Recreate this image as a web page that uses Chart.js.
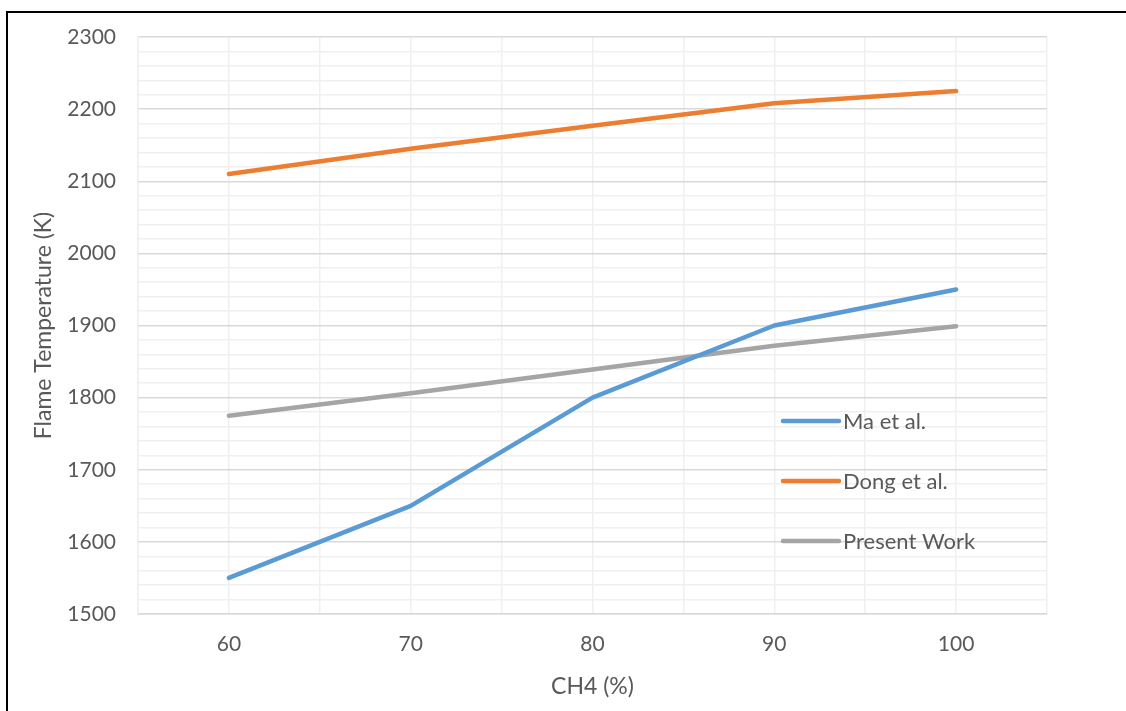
<!DOCTYPE html>
<html>
<head>
<meta charset="utf-8">
<script src="https://cdn.jsdelivr.net/npm/chart.js@4.4.1/dist/chart.umd.min.js"></script>
<style>
  html, body { margin: 0; padding: 0; background: #fff; overflow: hidden; }
  #wrap { position: relative; width: 1126px; height: 711px; overflow: hidden; }
  #c { position: absolute; left: 0; top: 0; }
  #frame { position: absolute; left: 6px; top: 11px; width: 1300px; height: 900px;
           border-top: 2px solid #000; border-left: 2px solid #000; pointer-events: none; }
</style>
</head>
<body>
<div id="wrap">
  <canvas id="c" width="1126" height="711"></canvas>
  <div id="frame"></div>
</div>
<script>
// CH4 share in the fuel (%) and flame temperatures (K)
const ch4Percent   = [60, 70, 80, 90, 100];
const maEtAl       = [1550, 1650, 1800, 1900, 1950];
const dongEtAl     = [2110, 2145, 2177, 2208, 2225];
const presentWork  = [1775, 1806, 1839, 1872, 1899];

const seriesNames  = ['Ma et al.', 'Dong et al.', 'Present Work'];
const seriesColors = ['#5B9BD5', '#ED7D31', '#A5A5A5'];
const xTickLabels  = [60, 70, 80, 90, 100];
const yTickLabels  = [1500, 1600, 1700, 1800, 1900, 2000, 2100, 2200, 2300];

const FONT = 'Lato, "Open Sans", sans-serif';
const TEXT = '#595959';

const toPoints = ys => ch4Percent.map((x, i) => ({ x: x, y: ys[i] }));

function lineSet(name, color, ys) {
  return {
    label: name,
    data: toPoints(ys),
    borderColor: color,
    backgroundColor: color,
    borderWidth: 4.5,
    borderCapStyle: 'round',
    borderJoinStyle: 'round',
    pointRadius: 0,
    pointHoverRadius: 0,
    tension: 0,
    fill: false
  };
}

// Legend drawn inside the plot area as a vertical list of line swatches
const insideLegend = {
  id: 'insideLegend',
  afterDraw(chart) {
    const ctx = chart.ctx;
    const x0 = 783, x1 = 839, textX = 843, y0 = 421, gap = 60;
    ctx.save();
    ctx.font = '22px ' + FONT;
    ctx.textBaseline = 'middle';
    ctx.textAlign = 'left';
    chart.data.datasets.forEach((ds, i) => {
      const y = y0 + i * gap;
      ctx.strokeStyle = ds.borderColor;
      ctx.lineWidth = 4.5;
      ctx.lineCap = 'round';
      ctx.beginPath();
      ctx.moveTo(x0, y);
      ctx.lineTo(x1, y);
      ctx.stroke();
      ctx.fillStyle = TEXT;
      ctx.fillText(ds.label, textX, y + 1);
    });
    ctx.restore();
  }
};

const whiteBg = {
  id: 'whiteBg',
  beforeDraw(chart) {
    const ctx = chart.ctx;
    ctx.save();
    ctx.fillStyle = '#fff';
    ctx.fillRect(0, 0, chart.width, chart.height);
    ctx.restore();
  }
};

new Chart(document.getElementById('c'), {
  type: 'line',
  data: {
    datasets: [
      lineSet(seriesNames[0], seriesColors[0], maEtAl),
      lineSet(seriesNames[1], seriesColors[1], dongEtAl),
      lineSet(seriesNames[2], seriesColors[2], presentWork)
    ]
  },
  options: {
    responsive: false,
    devicePixelRatio: 1,
    animation: false,
    layout: { padding: { top: 37, right: 79, left: 0, bottom: 0 } },
    plugins: {
      legend: { display: false },
      tooltip: { enabled: false }
    },
    scales: {
      x: {
        type: 'linear',
        min: 55,
        max: 105,
        afterFit: s => { s.height = 97; },
        ticks: {
          stepSize: 5,
          autoSkip: false,
          maxRotation: 0,
          padding: 18,
          color: TEXT,
          font: { family: FONT, size: 21 },
          callback: v => xTickLabels.includes(v) ? String(v) : ''
        },
        grid: { color: '#f0f0f0', lineWidth: 1.5, drawTicks: false },
        border: { display: true, color: '#d9d9d9', width: 1.5 },
        title: {
          display: true,
          text: 'CH4 (%)',
          color: TEXT,
          font: { family: FONT, size: 23 },
          padding: { top: 0, bottom: 11 }
        }
      },
      y: {
        type: 'linear',
        min: 1500,
        max: 2300,
        afterFit: s => { s.width = 138; },
        ticks: {
          stepSize: 20,
          autoSkip: false,
          padding: 22,
          color: TEXT,
          font: { family: FONT, size: 21 },
          callback: v => yTickLabels.includes(v) ? String(v) : ''
        },
        grid: {
          color: c => (c.tick && c.tick.value % 100 === 0) ? '#d9d9d9' : '#f0f0f0',
          lineWidth: 1.5,
          drawTicks: false
        },
        border: { display: true, color: '#f0f0f0', width: 1.5 },
        title: {
          display: true,
          text: 'Flame Temperature (K)',
          color: TEXT,
          font: { family: FONT, size: 23 },
          padding: { top: 30, bottom: 0 }
        }
      }
    }
  },
  plugins: [whiteBg, insideLegend]
});
</script>
</body>
</html>
